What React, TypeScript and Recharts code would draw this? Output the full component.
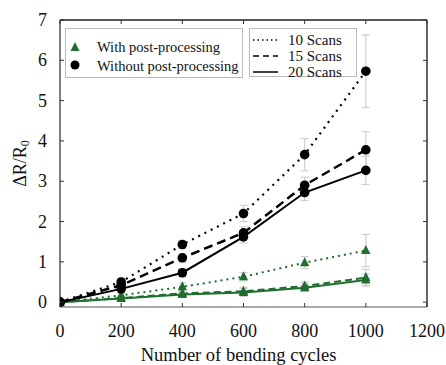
import React from 'react';
import { LineChart, Line, XAxis, YAxis, ErrorBar } from 'recharts';

const cycles = [0, 200, 400, 600, 800, 1000];
const without10 = [0, 0.5, 1.43, 2.2, 3.66, 5.73];
const without15 = [0, 0.42, 1.1, 1.72, 2.9, 3.78];
const without20 = [0, 0.33, 0.73, 1.62, 2.72, 3.27];
const with10 = [0, 0.17, 0.38, 0.63, 0.98, 1.28];
const with15 = [0, 0.1, 0.22, 0.27, 0.4, 0.61];
const with20 = [0, 0.09, 0.19, 0.24, 0.36, 0.55];

const errWithout10 = [0, 0.1, 0.1, 0.2, 0.4, 0.9];
const errWithout15 = [0, 0.1, 0.1, 0.15, 0.2, 0.45];
const errWithout20 = [0, 0.1, 0.1, 0.15, 0.2, 0.35];
const errWith10 = [0, 0.05, 0.1, 0.1, 0.15, 0.4];
const errWith15 = [0, 0.05, 0.05, 0.1, 0.1, 0.2];
const errWith20 = [0, 0.05, 0.05, 0.1, 0.1, 0.15];

const xTicks = [0, 200, 400, 600, 800, 1000, 1200];
const yTicks = [0, 1, 2, 3, 4, 5, 6, 7];

const legendMarkers = ['With post-processing', 'Without post-processing'];
const legendLines = ['10 Scans', '15 Scans', '20 Scans'];

const GREEN = '#1f6e2e';
const FONT = 'Liberation Serif';

const data = cycles.map((c, i) => ({
  cycles: c,
  wo10: without10[i],
  wo15: without15[i],
  wo20: without20[i],
  w10: with10[i],
  w15: with15[i],
  w20: with20[i],
  ewo10: errWithout10[i],
  ewo15: errWithout15[i],
  ewo20: errWithout20[i],
  ew10: errWith10[i],
  ew15: errWith15[i],
  ew20: errWith20[i],
}));

const CircleDot = (props: any) => {
  const { cx, cy } = props;
  if (cx == null || cy == null) return null;
  return <circle cx={cx} cy={cy} r={4.8} fill="#000" />;
};

const TriDot = (props: any) => {
  const { cx, cy } = props;
  if (cx == null || cy == null) return null;
  return (
    <polygon
      points={`${cx},${cy - 5.5} ${cx - 4.6},${cy + 3.5} ${cx + 4.6},${cy + 3.5}`}
      fill={GREEN}
    />
  );
};

const BottomTick = (props: any) => {
  const { x, y, payload } = props;
  return (
    <g>
      <line x1={x} y1={y} x2={x} y2={y - 4} stroke="#333" strokeWidth={1} />
      <text x={x} y={y + 24} textAnchor="middle" dominantBaseline="central" fontFamily={FONT} fontSize={18} fill="#111">
        {payload.value}
      </text>
    </g>
  );
};

const TopTick = (props: any) => {
  const { x, y } = props;
  return <line x1={x} y1={y} x2={x} y2={y + 4} stroke="#333" strokeWidth={1} />;
};

const LeftTick = (props: any) => {
  const { x, y, payload } = props;
  return (
    <g>
      <line x1={x} y1={y} x2={x + 4} y2={y} stroke="#333" strokeWidth={1} />
      <text x={x - 13} y={y} textAnchor="end" dominantBaseline="central" fontFamily={FONT} fontSize={18} fill="#111">
        {payload.value}
      </text>
    </g>
  );
};

const RightTick = (props: any) => {
  const { x, y } = props;
  return <line x1={x} y1={y} x2={x - 4} y2={y} stroke="#333" strokeWidth={1} />;
};

const YTitle = (props: any) => {
  const vb = props.viewBox || { x: 0, y: 20, width: 60, height: 287 };
  const cx = vb.x + 20;
  const cy = vb.y + vb.height / 2;
  return (
    <text
      x={cx}
      y={cy}
      transform={`rotate(-90 ${cx} ${cy})`}
      textAnchor="middle"
      dominantBaseline="central"
      fontFamily={FONT}
      fontSize={18}
      fill="#111"
    >
      <tspan>ΔR/R</tspan>
      <tspan fontSize={12} dy={5}>0</tspan>
    </text>
  );
};

const XTitle = (props: any) => {
  const vb = props.viewBox || { x: 60, y: 307, width: 367, height: 58 };
  return (
    <text
      x={vb.x + vb.width / 2 - 5}
      y={vb.y + 48}
      textAnchor="middle"
      dominantBaseline="central"
      fontFamily={FONT}
      fontSize={18.5}
      fill="#111"
    >
      Number of bending cycles
    </text>
  );
};

const errStyle = { stroke: '#cfcfcf', strokeWidth: 1.2, width: 4 };

export default function App() {
  return (
    <div style={{ position: 'absolute', left: 0, top: 0, width: 446, height: 365, background: '#fff' }}>
      <LineChart width={446} height={365} data={data} margin={{ top: 0, right: 0, bottom: 0, left: 0 }}>
        <XAxis
          xAxisId="bottom"
          dataKey="cycles"
          type="number"
          domain={[0, 1200]}
          ticks={xTicks}
          allowDataOverflow
          height={58}
          tickSize={0}
          tickMargin={0}
          tickLine={false}
          tick={<BottomTick />}
          axisLine={{ stroke: '#aaa', strokeWidth: 2 }}
          label={<XTitle />}
        />
        <XAxis
          xAxisId="top"
          orientation="top"
          type="number"
          dataKey="cycles"
          domain={[0, 1200]}
          ticks={xTicks}
          allowDataOverflow
          height={20}
          tickSize={0}
          tickMargin={0}
          tickLine={false}
          tick={<TopTick />}
          axisLine={{ stroke: '#222', strokeWidth: 1.5 }}
        />
        <YAxis
          yAxisId="left"
          type="number"
          domain={[-0.12, 7]}
          ticks={yTicks}
          allowDataOverflow
          width={60}
          tickSize={0}
          tickMargin={0}
          tickLine={false}
          tick={<LeftTick />}
          axisLine={{ stroke: '#555', strokeWidth: 1.5 }}
          label={<YTitle />}
        />
        <YAxis
          yAxisId="right"
          orientation="right"
          type="number"
          domain={[-0.12, 7]}
          ticks={yTicks}
          allowDataOverflow
          width={19}
          tickSize={0}
          tickMargin={0}
          tickLine={false}
          tick={<RightTick />}
          axisLine={{ stroke: '#666', strokeWidth: 2 }}
        />
        <Line xAxisId="bottom" yAxisId="left" dataKey="w10" stroke={GREEN} strokeWidth={2} strokeDasharray="2 4" dot={<TriDot />} isAnimationActive={false}>
          <ErrorBar dataKey="ew10" direction="y" {...errStyle} />
        </Line>
        <Line xAxisId="bottom" yAxisId="left" dataKey="w15" stroke={GREEN} strokeWidth={2} strokeDasharray="7 4" dot={<TriDot />} isAnimationActive={false}>
          <ErrorBar dataKey="ew15" direction="y" {...errStyle} />
        </Line>
        <Line xAxisId="bottom" yAxisId="left" dataKey="w20" stroke={GREEN} strokeWidth={2} dot={<TriDot />} isAnimationActive={false}>
          <ErrorBar dataKey="ew20" direction="y" {...errStyle} />
        </Line>
        <Line xAxisId="bottom" yAxisId="left" dataKey="wo10" stroke="#000" strokeWidth={2.2} strokeDasharray="2 5" dot={<CircleDot />} isAnimationActive={false}>
          <ErrorBar dataKey="ewo10" direction="y" {...errStyle} />
        </Line>
        <Line xAxisId="bottom" yAxisId="left" dataKey="wo15" stroke="#000" strokeWidth={2.5} strokeDasharray="9 5" dot={<CircleDot />} isAnimationActive={false}>
          <ErrorBar dataKey="ewo15" direction="y" {...errStyle} />
        </Line>
        <Line xAxisId="bottom" yAxisId="left" dataKey="wo20" stroke="#000" strokeWidth={2} dot={<CircleDot />} isAnimationActive={false}>
          <ErrorBar dataKey="ewo20" direction="y" {...errStyle} />
        </Line>
      </LineChart>
      <svg width={446} height={365} style={{ position: 'absolute', left: 0, top: 0, pointerEvents: 'none' }}>
        <rect x={65.5} y={28.5} width={177} height={49} fill="#fff" stroke="#bbb" strokeWidth={1} />
        <polygon points="75,42 70.5,51 79.5,51" fill={GREEN} />
        <circle cx={75} cy={65} r={4.5} fill="#000" />
        {legendMarkers.map((t, i) => (
          <text key={t} x={97} y={47 + i * 19} dominantBaseline="central" fontFamily={FONT} fontSize={14.5} fill="#111">
            {t}
          </text>
        ))}
        <rect x={249.5} y={28.5} width={107} height={48} fill="#fff" stroke="#bbb" strokeWidth={1} />
        <line x1={253} y1={40} x2={278} y2={40} stroke="#000" strokeWidth={1.5} strokeDasharray="1.5 3" />
        <line x1={253} y1={56} x2={278} y2={56} stroke="#000" strokeWidth={1.5} strokeDasharray="6 4" />
        <line x1={253} y1={72} x2={278} y2={72} stroke="#000" strokeWidth={1.5} />
        {legendLines.map((t, i) => (
          <text key={t} x={288} y={40 + i * 16} dominantBaseline="central" fontFamily={FONT} fontSize={15} fill="#111">
            {t}
          </text>
        ))}
      </svg>
    </div>
  );
}
